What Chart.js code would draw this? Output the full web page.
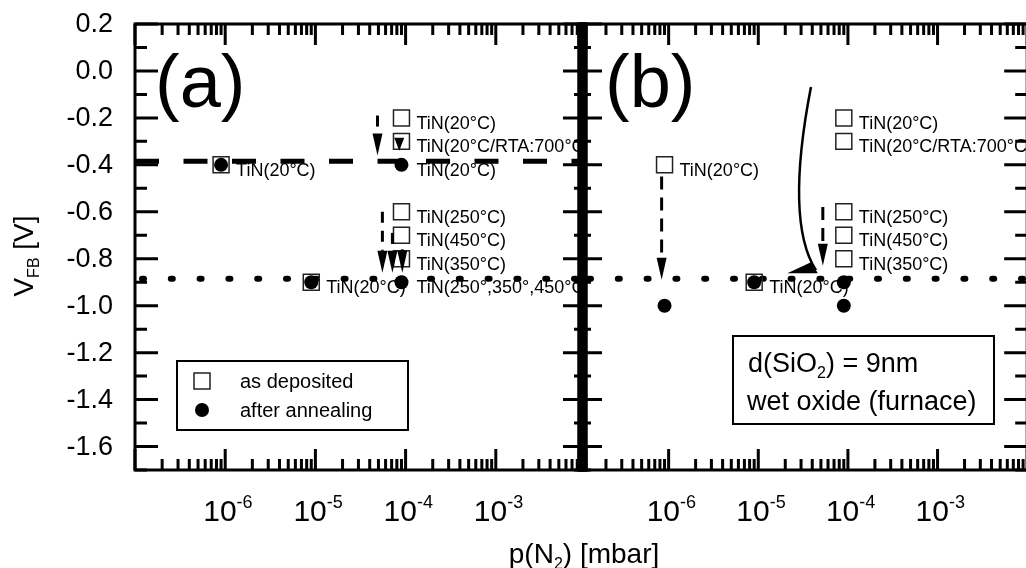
<!DOCTYPE html>
<html>
<head>
<meta charset="utf-8">
<title>VFB vs p(N2)</title>
<script src="https://cdn.jsdelivr.net/npm/chart.js@4.4.0/dist/chart.umd.min.js"></script>
<style>
  html, body { margin: 0; padding: 0; background: #fff; overflow: hidden; }
  #wrap { position: relative; width: 1026px; height: 568px; overflow: hidden; }
  canvas { position: absolute; left: 0; top: 0; }
</style>
</head>
<body>
<div id="wrap">
  <canvas id="panelA" width="1026" height="568"></canvas>
  <canvas id="panelB" width="1040" height="568"></canvas>
</div>
<script>
// axes: p(N2) in mbar (log), flat-band voltage in V
const xMin = 1e-7, xMax = 1e-2;
const yMin = -1.7, yMax = 0.2;
const yTickValues = [0.2, 0.0, -0.2, -0.4, -0.6, -0.8, -1.0, -1.2, -1.4, -1.6];
const xTickExponents = [-6, -5, -4, -3];

// reference levels
const dashedLevelA = -0.385;
const dottedLevel = -0.885;

// panel (a)
const aDepositedP = [9e-7, 9e-6, 9e-5, 9e-5, 9e-5, 9e-5, 9e-5];
const aDepositedV = [-0.4, -0.9, -0.2, -0.3, -0.6, -0.7, -0.8];
const aAnnealedP = [9e-7, 9e-6, 9e-5, 9e-5];
const aAnnealedV = [-0.4, -0.9, -0.4, -0.9];
const aLabelP = [9e-7, 9e-6, 9e-5, 9e-5, 9e-5, 9e-5, 9e-5, 9e-5, 9e-5];
const aLabelV = [-0.4, -0.9, -0.2, -0.3, -0.4, -0.6, -0.7, -0.8, -0.9];
const aLabelText = ['TiN(20°C)', 'TiN(20°C)', 'TiN(20°C)', 'TiN(20°C/RTA:700°C)', 'TiN(20°C)',
                    'TiN(250°C)', 'TiN(450°C)', 'TiN(350°C)', 'TiN(250°,350°,450°C)'];
const aArrowP = [4.88e-5, 8.5e-5, 5.53e-5, 7.14e-5, 9.2e-5];
const aArrowFrom = [-0.19, -0.285, -0.6, -0.69, -0.76];
const aArrowTo = [-0.36, -0.34, -0.86, -0.86, -0.86];

// panel (b)
const bDepositedP = [9e-7, 9e-6, 9e-5, 9e-5, 9e-5, 9e-5, 9e-5];
const bDepositedV = [-0.4, -0.9, -0.2, -0.3, -0.6, -0.7, -0.8];
const bAnnealedP = [9e-7, 9e-6, 9e-5, 9e-5];
const bAnnealedV = [-1.0, -0.9, -0.9, -1.0];
const bLabelP = [9e-7, 9e-6, 9e-5, 9e-5, 9e-5, 9e-5, 9e-5];
const bLabelV = [-0.4, -0.9, -0.2, -0.3, -0.6, -0.7, -0.8];
const bLabelText = ['TiN(20°C)', 'TiN(20°C)', 'TiN(20°C)', 'TiN(20°C/RTA:700°C)',
                    'TiN(250°C)', 'TiN(450°C)', 'TiN(350°C)'];
const bArrowP = [8.35e-7, 5.25e-5];
const bArrowFrom = [-0.45, -0.58];
const bArrowTo = [-0.89, -0.83];
// curved arrow: start, control, end, then head tip / head base points
const bCurveP = [3.87e-5, 1.98e-5, 4.4e-5];
const bCurveV = [-0.068, -0.641, -0.849];
const bHeadP = [2.11e-5, 3.87e-5, 4.62e-5];
const bHeadV = [-0.862, -0.815, -0.862];

const fontFamily = '"Liberation Sans", Arial, Helvetica, sans-serif';

function toPoints(ps, vs) {
    return ps.map((p, i) => ({ x: p, y: vs[i] }));
}

function drawRich(ctx, x, y, parts) {
    ctx.textAlign = 'left';
    ctx.textBaseline = 'alphabetic';
    parts.forEach(part => {
        ctx.font = part.size + 'px ' + fontFamily;
        ctx.fillText(part.t, x, y + (part.dy || 0));
        x += ctx.measureText(part.t).width;
    });
}

function richWidth(ctx, parts) {
    let w = 0;
    parts.forEach(part => {
        ctx.font = part.size + 'px ' + fontFamily;
        w += ctx.measureText(part.t).width;
    });
    return w;
}

function drawDownArrow(ctx, x, y1, y2, dash) {
    const headLen = Math.min(22, y2 - y1);
    ctx.lineWidth = 3;
    if (y2 - headLen > y1) {
        ctx.setLineDash(dash);
        ctx.beginPath();
        ctx.moveTo(x, y1);
        ctx.lineTo(x, y2 - headLen);
        ctx.stroke();
        ctx.setLineDash([]);
    }
    ctx.beginPath();
    ctx.moveTo(x, y2);
    ctx.lineTo(x - 5, y2 - headLen);
    ctx.lineTo(x + 5, y2 - headLen);
    ctx.closePath();
    ctx.fill();
}

// frame, inward ticks, point labels, arrows
const panelDecor = {
    id: 'panelDecor',
    afterDatasetsDraw(chart, args, opts) {
        const ctx = chart.ctx;
        const area = chart.chartArea;
        const xs = chart.scales.x, ys = chart.scales.y;
        ctx.save();
        ctx.fillStyle = '#000';
        ctx.strokeStyle = '#000';

        // point labels
        ctx.save();
        if (opts.clipLabels) {
            ctx.beginPath();
            ctx.rect(area.left, 0, area.width, chart.height);
            ctx.clip();
        }
        ctx.font = '18px ' + fontFamily;
        ctx.textAlign = 'left';
        ctx.textBaseline = 'middle';
        opts.labelP.forEach((p, i) => {
            ctx.fillText(opts.labelText[i], xs.getPixelForValue(p) + 15, ys.getPixelForValue(opts.labelV[i]) + 6);
        });
        ctx.restore();

        // dashed arrows
        opts.arrowP.forEach((p, i) => {
            drawDownArrow(ctx, xs.getPixelForValue(p), ys.getPixelForValue(opts.arrowFrom[i]),
                ys.getPixelForValue(opts.arrowTo[i]), opts.arrowDash);
        });

        // ticks
        ctx.lineWidth = 3;
        ctx.lineCap = 'butt';
        ctx.beginPath();
        for (let i = 0; i <= 19; i++) {
            const v = yMin + i * 0.1;
            const py = ys.getPixelForValue(v);
            const len = Math.abs(Math.round(v * 10)) % 2 === 0 ? 23 : 12;
            ctx.moveTo(area.left, py); ctx.lineTo(area.left + len, py);
            ctx.moveTo(area.right, py); ctx.lineTo(area.right - len, py);
        }
        for (let e = -7; e <= -2; e++) {
            for (let m = 1; m <= 9; m++) {
                if (e === -2 && m > 1) break;
                const px = xs.getPixelForValue(m * Math.pow(10, e));
                const len = m === 1 ? 21 : 11;
                ctx.moveTo(px, area.bottom); ctx.lineTo(px, area.bottom - len);
                ctx.moveTo(px, area.top); ctx.lineTo(px, area.top + len);
            }
        }
        ctx.stroke();
        ctx.strokeRect(area.left, area.top, area.width, area.height);

        // x tick labels
        ctx.fillStyle = '#000';
        xTickExponents.forEach(e => {
            const px = xs.getPixelForValue(Math.pow(10, e));
            drawRich(ctx, px - 22, 521, [
                { t: '10', size: 30 },
                { t: String(e), size: 18, dy: -13 }
            ]);
        });

        // panel letter
        ctx.font = '74px ' + fontFamily;
        ctx.textAlign = 'left';
        ctx.textBaseline = 'alphabetic';
        ctx.fillText(opts.letter, opts.letterX, 107);

        if (opts.extra) opts.extra(ctx, chart);
        ctx.restore();
    }
};

function decorA(ctx, chart) {
    const area = chart.chartArea;
    const ys = chart.scales.y;

    // y tick labels
    ctx.font = '27px ' + fontFamily;
    ctx.textAlign = 'right';
    ctx.textBaseline = 'middle';
    yTickValues.forEach(v => {
        ctx.fillText(v.toFixed(1), area.left - 22, ys.getPixelForValue(v) + 1);
    });

    // axis titles
    const xTitle = [
        { t: 'p(N', size: 28 },
        { t: '2', size: 16, dy: 6 },
        { t: ') [mbar]', size: 28 }
    ];
    drawRich(ctx, 584 - richWidth(ctx, xTitle) / 2, 563, xTitle);

    const yTitle = [
        { t: 'V', size: 28 },
        { t: 'FB', size: 16, dy: 6 },
        { t: ' [V]', size: 28 }
    ];
    ctx.save();
    ctx.translate(33, 256);
    ctx.rotate(-Math.PI / 2);
    drawRich(ctx, -richWidth(ctx, yTitle) / 2, 0, yTitle);
    ctx.restore();

    // legend
    ctx.lineWidth = 2;
    ctx.strokeRect(177, 361, 231, 69);
    ctx.lineWidth = 1.5;
    ctx.strokeStyle = '#222';
    ctx.strokeRect(194, 373, 16, 16);
    ctx.strokeStyle = '#000';
    ctx.beginPath();
    ctx.arc(202, 410, 7, 0, Math.PI * 2);
    ctx.fill();
    ctx.font = '20px ' + fontFamily;
    ctx.textAlign = 'left';
    ctx.textBaseline = 'middle';
    ctx.fillText('as deposited', 240, 382);
    ctx.fillText('after annealing', 240, 411);
}

function decorB(ctx, chart) {
    const area = chart.chartArea;
    const xs = chart.scales.x, ys = chart.scales.y;

    // the two panel frames overlap here: fill the gap so it reads as one bar
    ctx.fillRect(area.left - 1.5, area.top - 1.5, 10, area.height + 3);

    // curved arrow
    const cx = bCurveP.map(p => xs.getPixelForValue(p));
    const cy = bCurveV.map(v => ys.getPixelForValue(v));
    ctx.lineWidth = 2.5;
    ctx.beginPath();
    ctx.moveTo(cx[0], cy[0]);
    ctx.quadraticCurveTo(cx[1], cy[1], cx[2], cy[2]);
    ctx.stroke();
    ctx.beginPath();
    bHeadP.forEach((p, i) => {
        const hx = xs.getPixelForValue(p), hy = ys.getPixelForValue(bHeadV[i]);
        if (i === 0) ctx.moveTo(hx, hy); else ctx.lineTo(hx, hy);
    });
    ctx.closePath();
    ctx.fill();

    // sample box
    ctx.lineWidth = 2;
    ctx.strokeRect(733, 336, 261, 88);
    drawRich(ctx, 748, 372, [
        { t: 'd(SiO', size: 27 },
        { t: '2', size: 16, dy: 6 },
        { t: ') = 9nm', size: 27 }
    ]);
    drawRich(ctx, 747, 410, [{ t: 'wet oxide (furnace)', size: 27 }]);
}

function makePanel(canvasId, padding, sets, decor) {
    const canvas = document.getElementById(canvasId);
    return new Chart(canvas, {
        type: 'scatter',
        data: {
            datasets: [
                {
                    data: toPoints(sets.annealedP, sets.annealedV),
                    pointStyle: 'circle',
                    pointRadius: 7,
                    backgroundColor: '#000',
                    borderColor: '#000',
                    borderWidth: 0,
                    order: 0
                },
                {
                    data: toPoints(sets.depositedP, sets.depositedV),
                    pointStyle: 'rect',
                    pointRadius: 11.3,
                    backgroundColor: 'rgba(0,0,0,0)',
                    borderColor: '#222',
                    borderWidth: 1.5,
                    order: 1
                },
                ...sets.levels.map(l => ({
                    data: [{ x: xMin, y: l.v }, { x: xMax, y: l.v }],
                    showLine: true,
                    pointRadius: 0,
                    borderColor: '#000',
                    borderWidth: l.width,
                    borderDash: l.dash,
                    borderDashOffset: l.offset,
                    borderCapStyle: l.cap,
                    order: 2
                }))
            ]
        },
        options: {
            responsive: false,
            animation: false,
            events: [],
            layout: { padding: padding },
            scales: {
                x: { type: 'logarithmic', min: xMin, max: xMax, display: false },
                y: { type: 'linear', min: yMin, max: yMax, display: false }
            },
            plugins: {
                legend: { display: false },
                tooltip: { enabled: false },
                panelDecor: decor
            }
        },
        plugins: [panelDecor]
    });
}

makePanel('panelA', { left: 135, right: 1026 - 586, top: 24, bottom: 98 }, {
    annealedP: aAnnealedP, annealedV: aAnnealedV,
    depositedP: aDepositedP, depositedV: aDepositedV,
    levels: [
        { v: dashedLevelA, width: 5, dash: [24, 24.5], offset: 0, cap: 'butt' },
        { v: dottedLevel, width: 6, dash: [2, 26.8], offset: -7, cap: 'round' }
    ]
}, {
    labelP: aLabelP, labelV: aLabelV, labelText: aLabelText, clipLabels: true,
    arrowP: aArrowP, arrowFrom: aArrowFrom, arrowTo: aArrowTo, arrowDash: [11, 8],
    letter: '(a)', letterX: 155,
    extra: decorA
});

makePanel('panelB', { left: 579, right: 1040 - 1032, top: 24, bottom: 98 }, {
    annealedP: bAnnealedP, annealedV: bAnnealedV,
    depositedP: bDepositedP, depositedV: bDepositedV,
    levels: [
        { v: dottedLevel, width: 6, dash: [2, 26.8], offset: -10, cap: 'round' }
    ]
}, {
    labelP: bLabelP, labelV: bLabelV, labelText: bLabelText, clipLabels: false,
    arrowP: bArrowP, arrowFrom: bArrowFrom, arrowTo: bArrowTo, arrowDash: [13, 8],
    letter: '(b)', letterX: 605,
    extra: decorB
});
</script>
</body>
</html>
